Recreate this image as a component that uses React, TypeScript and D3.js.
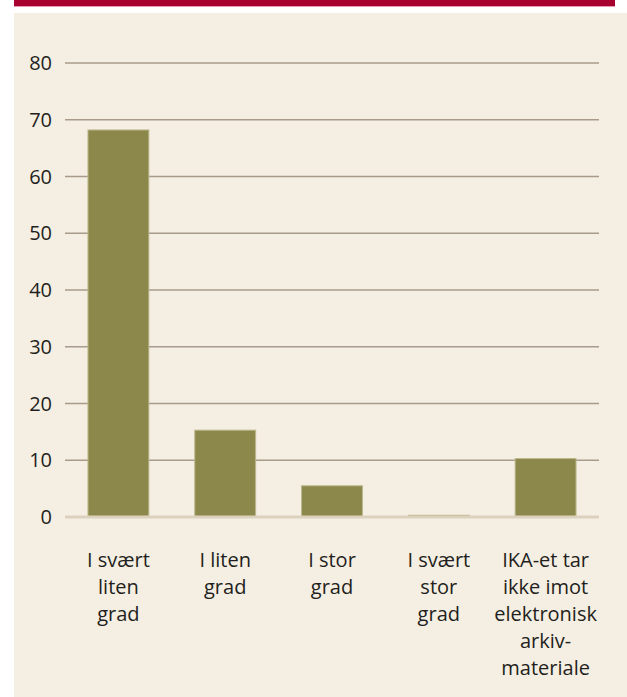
import React from 'react'
import * as d3 from 'd3'

const categories = ['svært liten', 'liten', 'stor', 'svært stor', 'ika']
const values = [68.2, 15.3, 5.5, 0.3, 10.3]
const labelLines = [
    ['I svært', 'liten', 'grad'],
    ['I liten', 'grad'],
    ['I stor', 'grad'],
    ['I svært', 'stor', 'grad'],
    ['IKA-et tar', 'ikke imot', 'elektronisk', 'arkiv-', 'materiale'],
]
const yTicks = [0, 10, 20, 30, 40, 50, 60, 70, 80]

const W = 627
const H = 697
const margin = { top: 63, right: 28, bottom: 180, left: 65 }

function App() {
    const innerWidth = W - margin.left - margin.right
    const innerHeight = H - margin.top - margin.bottom

    const x = d3.scaleBand<string>()
        .domain(categories)
        .range([0, innerWidth])
        .paddingInner(0.43)
        .paddingOuter(0.215)
    const y = d3.scaleLinear().domain([0, 80]).range([innerHeight, 0])

    const font = '"Open Sans", "Noto Sans", sans-serif'

    return (
        <svg width={W} height={H} style={{ position: 'absolute', left: 0, top: 0 }}>
            <rect x={0} y={0} width={W} height={H} fill="#ffffff" />
            <rect x={14} y={0} width={601} height={6} fill="#a8002f" />
            <rect x={14} y={6} width={601} height={1} fill="#e79bb0" />
            <rect x={14} y={13} width={W - 14} height={H - 13} fill="#f5eee2" />
            <g transform={`translate(${margin.left},${margin.top})`}>
                {yTicks.map(t => (
                    <g key={t}>
                        {t > 0 && (
                            <line x1={0} x2={innerWidth} y1={y(t)} y2={y(t)}
                                stroke="#a99b8b" strokeWidth={1.3} />
                        )}
                        <text x={-13} y={y(t)} dy="0.36em" textAnchor="end"
                            fontFamily={font} fontSize={20} fill="#231f20">{t}</text>
                    </g>
                ))}
                {categories.map((c, i) => (
                    <rect key={c}
                        x={x(c)}
                        y={y(values[i])}
                        width={x.bandwidth()}
                        height={innerHeight - y(values[i])}
                        fill="#8c884b"
                        stroke="#bcb78c"
                        strokeWidth={1}
                    />
                ))}
                <line x1={0} x2={innerWidth} y1={y(0)} y2={y(0)} stroke="#dbd1bd" strokeWidth={3} />
                {categories.map((c, i) => (
                    <text key={c} textAnchor="middle" fontFamily={font} fontSize={20} fill="#231f20"
                        transform={`translate(${(x(c) ?? 0) + x.bandwidth() / 2},${innerHeight + 50})`}>
                        {labelLines[i].map((l, j) => (
                            <tspan key={j} x={0} dy={j === 0 ? 0 : 27}>{l}</tspan>
                        ))}
                    </text>
                ))}
            </g>
        </svg>
    )
}

export default App
